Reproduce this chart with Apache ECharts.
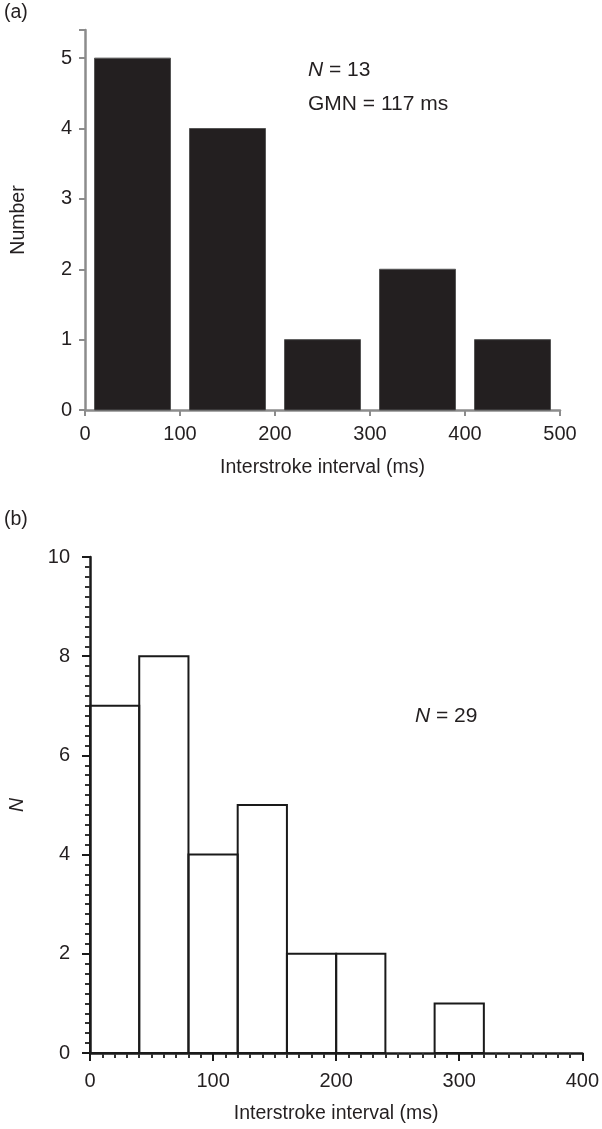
<!DOCTYPE html>
<html>
<head>
<meta charset="utf-8">
<script src="https://cdn.jsdelivr.net/npm/echarts@6/dist/echarts.min.js"></script>
<style>html,body{margin:0;padding:0;background:#fff;}#c{width:602px;height:1129px;}</style>
</head>
<body>
<div id="c"></div>
<script>
// Panel (a)
const binStartsA = [0, 100, 200, 300, 400];
const binWidthA = 100;
const countsA = [5, 4, 1, 2, 1];
const xTicksA = [0, 100, 200, 300, 400, 500];
const yTicksA = [0, 1, 2, 3, 4, 5];
// Panel (b)
const binStartsB = [0, 40, 80, 120, 160, 200, 240, 280];
const binWidthB = 40;
const countsB = [7, 8, 4, 5, 2, 2, 0, 1];
const xTicksB = [0, 100, 200, 300, 400];
const yTicksB = [0, 2, 4, 6, 8, 10];

const FONT = '"Liberation Sans", Arial, Helvetica, sans-serif';
const TXT = '#231f20';
const GRAY = '#8c8c8c';

const dataA = binStartsA.map((s, i) => [s, s + binWidthA, countsA[i]]);
const dataB = binStartsB.map((s, i) => [s, s + binWidthB, countsB[i]]);

const chart = echarts.init(document.getElementById('c'), null, {renderer: 'canvas'});

const option = {
  backgroundColor: '#ffffff',
  animation: false,
  grid: [
    {left: 85, right: 42, top: 30, bottom: 719, containLabel: false},
    {left: 88.5, right: 17.5, top: 557, bottom: 76, containLabel: false}
  ],
  xAxis: [
    {
      gridIndex: 0, type: 'value', min: xTicksA[0], max: xTicksA[xTicksA.length - 1], interval: 100,
      axisLine: {show: true, lineStyle: {color: GRAY, width: 2.5}},
      axisTick: {show: true, length: 6, lineStyle: {color: GRAY, width: 2}},
      axisLabel: {color: TXT, fontSize: 20, fontFamily: FONT, margin: 14},
      splitLine: {show: false},
      name: 'Interstroke interval (ms)', nameLocation: 'middle', nameGap: 48,
      nameTextStyle: {color: TXT, fontSize: 19.5, fontFamily: FONT}
    },
    {
      gridIndex: 1, type: 'value', min: xTicksB[0], max: xTicksB[xTicksB.length - 1], interval: 100,
      axisLine: {show: true, lineStyle: {color: '#1a1a1a', width: 2.5}},
      axisTick: {show: true, length: 8, lineStyle: {color: '#1a1a1a', width: 2}},
      minorTick: {show: true, splitNumber: 10, length: 5, lineStyle: {color: '#333', width: 2}},
      axisLabel: {color: TXT, fontSize: 20, fontFamily: FONT, margin: 18},
      splitLine: {show: false},
      name: 'Interstroke interval (ms)', nameLocation: 'middle', nameGap: 51,
      nameTextStyle: {color: TXT, fontSize: 19.5, fontFamily: FONT}
    }
  ],
  yAxis: [
    {
      gridIndex: 0, type: 'value', min: yTicksA[0], max: 5.4, interval: 1,
      axisLine: {show: true, lineStyle: {color: GRAY, width: 2.5}},
      axisTick: {show: true, length: 6, lineStyle: {color: GRAY, width: 2}},
      axisLabel: {color: TXT, fontSize: 20, fontFamily: FONT, margin: 13,
        formatter: v => (yTicksA.indexOf(v) >= 0 ? String(v) : '')},
      splitLine: {show: false},
      name: 'Number', nameLocation: 'middle', nameGap: 56,
      nameTextStyle: {color: TXT, fontSize: 19.5, fontFamily: FONT}
    },
    {
      gridIndex: 1, type: 'value', min: yTicksB[0], max: yTicksB[yTicksB.length - 1], interval: 2,
      axisLine: {show: true, lineStyle: {color: '#1a1a1a', width: 2.5}},
      axisTick: {show: true, length: 8, lineStyle: {color: '#1a1a1a', width: 2}},
      minorTick: {show: true, splitNumber: 10, length: 5, lineStyle: {color: '#333', width: 2}},
      axisLabel: {color: TXT, fontSize: 20, fontFamily: FONT, margin: 20},
      splitLine: {show: false},
      name: 'N', nameLocation: 'middle', nameGap: 62,
      nameTextStyle: {color: TXT, fontSize: 19.5, fontFamily: FONT, fontStyle: 'italic'}
    }
  ],
  series: [
    {
      type: 'custom', xAxisIndex: 0, yAxisIndex: 0, data: dataA,
      renderItem: function (params, api) {
        const gap = 10;
        const p0 = api.coord([api.value(0) + gap, api.value(2)]);
        const p1 = api.coord([api.value(1) - gap, 0]);
        return {
          type: 'rect',
          shape: {x: p0[0], y: p0[1], width: p1[0] - p0[0], height: p1[1] - p0[1]},
          style: {fill: '#231f20', stroke: '#555', lineWidth: 1}
        };
      }
    },
    {
      type: 'custom', xAxisIndex: 1, yAxisIndex: 1, data: dataB, z: 3,
      renderItem: function (params, api) {
        if (api.value(2) <= 0) return null;
        const p0 = api.coord([api.value(0), api.value(2)]);
        const p1 = api.coord([api.value(1), 0]);
        return {
          type: 'rect',
          shape: {x: p0[0], y: p0[1], width: p1[0] - p0[0], height: p1[1] - p0[1]},
          style: {fill: 'rgba(0,0,0,0)', stroke: '#1a1a1a', lineWidth: 2}
        };
      }
    }
  ],
  graphic: [
    {type: 'text', left: 4, top: 3, style: {text: '(a)', fill: TXT, fontSize: 19.5, fontFamily: FONT}},
    {type: 'text', left: 4, top: 510, style: {text: '(b)', fill: TXT, fontSize: 19.5, fontFamily: FONT}},
    {type: 'text', left: 308, top: 60, style: {
      text: '{i|N} = 13', fill: TXT, fontSize: 21, fontFamily: FONT,
      rich: {i: {fontStyle: 'italic', fontSize: 21, fontFamily: FONT, fill: TXT}}}},
    {type: 'text', left: 308, top: 94, style: {text: 'GMN = 117 ms', fill: TXT, fontSize: 21, fontFamily: FONT}},
    {type: 'text', left: 415, top: 706, style: {
      text: '{i|N} = 29', fill: TXT, fontSize: 21, fontFamily: FONT,
      rich: {i: {fontStyle: 'italic', fontSize: 21, fontFamily: FONT, fill: TXT}}}}
  ]
};
chart.setOption(option);
</script>
</body>
</html>
